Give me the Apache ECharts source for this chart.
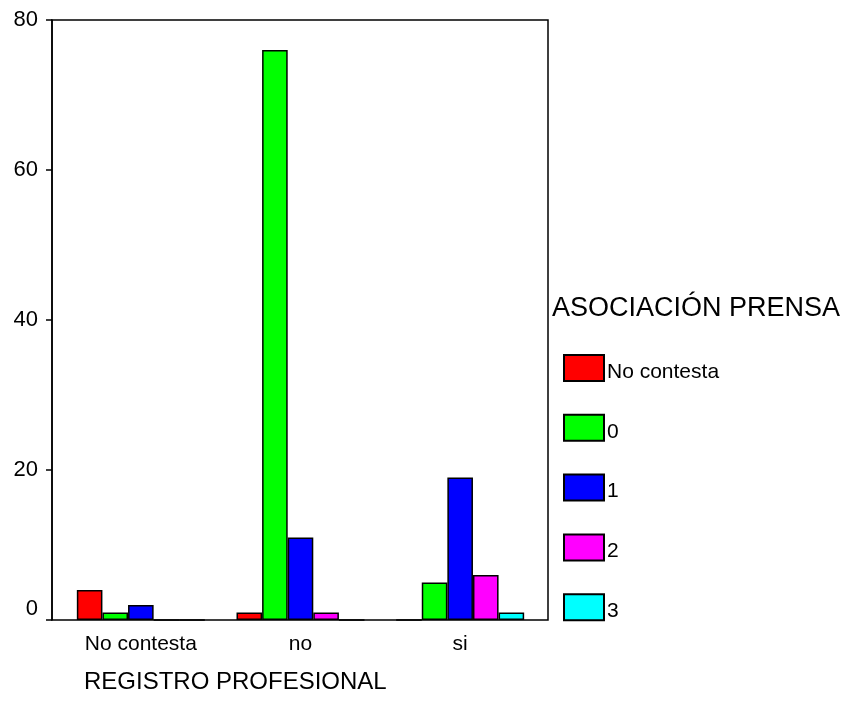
<!DOCTYPE html>
<html><head><meta charset="utf-8">
<script src="https://cdn.jsdelivr.net/npm/echarts@6/dist/echarts.min.js"></script>
<style>html,body{margin:0;padding:0;background:#fff}#c{width:846px;height:722px}</style>
</head><body><div id="c"></div>
<script>
const categories = ['No contesta', 'no', 'si'];
const seriesNames = ['No contesta', '0', '1', '2', '3'];
const valNoContesta = [4, 1, 0];
const val0 = [1, 76, 5];
const val1 = [2, 11, 19];
const val2 = [0, 1, 6];
const val3 = [0, 0, 1];
const colors = ['#ff0000', '#00ff00', '#0000ff', '#ff00ff', '#00ffff'];
const yTicks = [0, 20, 40, 60, 80];

const allVals = [valNoContesta, val0, val1, val2, val3];
const font = 'Liberation Sans, Arial, sans-serif';
const chart = echarts.init(document.getElementById('c'), null, {renderer: 'canvas'});
chart.setOption({
  animation: false,
  backgroundColor: '#fff',
  title: {
    text: 'ASOCIACIÓN PRENSA', left: 552, top: 295, padding: 0,
    textStyle: {fontFamily: font, fontSize: 27, fontWeight: 'normal', color: '#000'}
  },
  graphic: [{
    type: 'text', left: 84, top: 670,
    style: {text: 'REGISTRO PROFESIONAL', font: '24px Liberation Sans, Arial, sans-serif', fill: '#000'}
  }],
  legend: {
    orient: 'vertical', left: 563, top: 354, padding: 0,
    itemWidth: 40, itemHeight: 26, itemGap: 31.3,
    icon: 'rect',
    data: seriesNames,
    formatter: n => '{a|' + n + '}',
    textStyle: {fontFamily: font, fontSize: 21, color: '#000', padding: [0, 0, 0, -2],
      rich: {a: {fontFamily: font, fontSize: 21, color: '#000', padding: [8, 0, 0, 0]}}}
  },
  grid: [
    {left: 61, top: 20, right: 306, bottom: 102},
    {left: 52, top: 20, right: 298, bottom: 102, show: true, borderColor: '#000', borderWidth: 1.5, backgroundColor: 'transparent'}
  ],
  xAxis: [{
    type: 'category', data: categories, gridIndex: 0,
    axisLine: {show: false},
    axisTick: {alignWithLabel: true, length: 5, lineStyle: {color: '#000', width: 1.5}},
    axisLabel: {fontFamily: font, fontSize: 21, color: '#000', margin: 14}
  }, {
    type: 'value', gridIndex: 1, show: false
  }],
  yAxis: [{
    type: 'value', gridIndex: 0, min: 0, max: 80, interval: 20, show: false
  }, {
    type: 'value', gridIndex: 1, min: 0, max: 80, interval: 20,
    axisLine: {show: true, lineStyle: {color: '#000', width: 1.5}},
    axisTick: {show: true, length: 6, lineStyle: {color: '#000', width: 1.5}},
    splitLine: {show: false},
    axisLabel: {fontFamily: font, fontSize: 22, color: '#000', margin: 14,
      verticalAlignMinLabel: 'bottom',
      formatter: v => yTicks.includes(v) ? String(v) : ''}
  }],
  series: seriesNames.map((n, i) => ({
    name: n, type: 'bar', data: allVals[i], xAxisIndex: 0, yAxisIndex: 0,
    barWidth: 25.6, barGap: '0%',
    itemStyle: {color: colors[i], borderColor: '#000', borderWidth: 1.5}
  }))
});
</script></body></html>
